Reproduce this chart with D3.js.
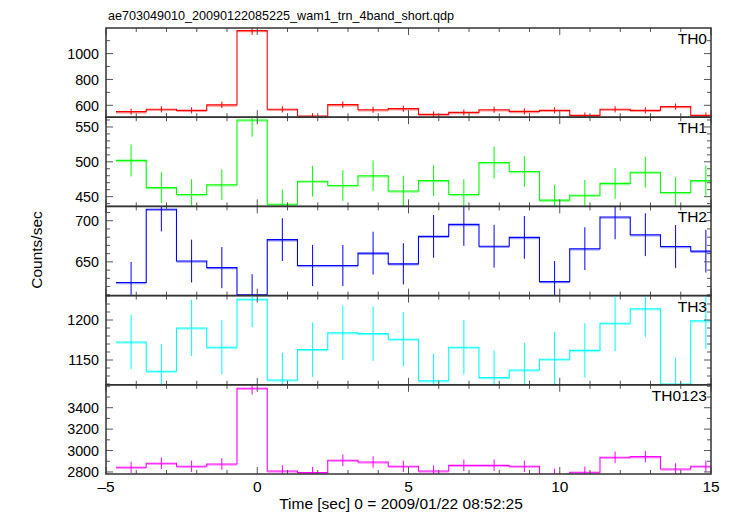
<!DOCTYPE html>
<html><head><meta charset="utf-8">
<script src="https://cdn.jsdelivr.net/npm/d3@7"></script>
<style>body{margin:0;background:#fff}svg{display:block;font-family:"Liberation Sans",Arial,sans-serif}</style>
</head><body><svg id="c" width="733" height="516"></svg>
<script>
const titleText = "ae703049010_20090122085225_wam1_trn_4band_short.qdp";
const xLabel = "Time [sec] 0 = 2009/01/22 08:52:25";
const yLabel = "Counts/sec";
const times = [-4.17,-3.17,-2.17,-1.17,-0.17,0.83,1.83,2.83,3.83,4.83,5.83,6.83,7.83,8.83,9.83,10.83,11.83,12.83,13.83,14.83];
const panelNames = ["TH0","TH1","TH2","TH3","TH0123"];
const panelColors = ["#ff0000","#00ff00","#0000ff","#00ffff","#ff00ff"];
const th0 = [551,569,561,603,1178,569,517,605,566,574,530,545,566,553,561,522,569,561,590,522];
const th0Err = [24,24,24,25,34,24,23,25,24,24,23,23,24,24,24,23,24,24,24,23];
const th1 = [502,463,453,467,560,439,472,466,480,458,473,453,499,486,445,452,469,485,456,473];
const th1Err = [23,22,22,22,24,21,22,22,22,22,22,22,23,22,22,22,22,22,22,22];
const th2 = [625,714,651,643,610,677,645.5,645.5,660.6,647.6,681,695.5,669,679.7,626,666,704.5,683,668.7,663];
const th2Err = [25,27,26,25,25,26,25,25,26,25,26,26,26,26,25,26,27,26,26,26];
const th3 = [1172.5,1136,1190,1166,1226,1125,1163,1184,1183,1176,1124,1166,1128,1137.5,1151,1162,1196,1214,1120,1199];
const th3Err = [34,34,35,34,35,34,34,34,34,34,34,34,34,34,34,34,35,35,33,35];
const th0123 = [2844,2881,2853,2875,3582,2809,2794,2909,2893,2853,2809,2862,2862,2853,2778,2797,2937,2943,2828,2853];
const th0123Err = [53,54,53,54,60,53,53,54,54,53,53,54,54,53,53,53,54,54,53,53];
const yDomains = [[508,1198],[436,564],[609,717.4],[1119,1230.5],[2781,3614]];
const yTickLabels = [[600,800,1000],[450,500,550],[650,700],[1150,1200],[2800,3000,3200,3400]];
const yMinorStep = [100,10,10,10,100];
const xDomain = [-5,15];
const xTickLabels = [-5,0,5,10,15];
const binWidth = 1;

const series = [th0,th1,th2,th3,th0123];
const errs = [th0Err,th1Err,th2Err,th3Err,th0123Err];

const svg = d3.select("#c");
const L=106,R=711,T=28,B=474;
const ph=(B-T)/5;
const x = d3.scaleLinear().domain(xDomain).range([L,R]);
const frameCol="#333", tickCol="#555";

svg.append("text").attr("x",108).attr("y",20).attr("font-size",12.6).attr("fill","#000").text(titleText);

panelNames.forEach((name,i)=>{
  const top=T+i*ph, bot=top+ph;
  const y=d3.scaleLinear().domain(yDomains[i]).range([bot,top]);
  const g=svg.append("g");
  const cid="clip"+i;
  svg.append("clipPath").attr("id",cid).append("rect").attr("x",L).attr("y",top).attr("width",R-L).attr("height",ph);
  const data=times.map((t,k)=>({t,v:series[i][k],e:errs[i][k]}));
  const dg=g.append("g").attr("clip-path",`url(#${cid})`);
  dg.selectAll("line.h").data(data).join("line")
    .attr("x1",d=>x(d.t-binWidth/2)).attr("x2",d=>x(d.t+binWidth/2))
    .attr("y1",d=>y(d.v)+1).attr("y2",d=>y(d.v)+1)
    .attr("stroke",panelColors[i]).attr("stroke-opacity",0.4).attr("stroke-width",1.5);
  const pts=[];
  data.forEach(d=>{pts.push([x(d.t-binWidth/2),y(d.v)]);pts.push([x(d.t+binWidth/2),y(d.v)]);});
  dg.append("path").attr("d",d3.line()(pts)).attr("fill","none").attr("stroke",panelColors[i]).attr("stroke-width",1.1);
  dg.selectAll("line.e").data(data).join("line")
    .attr("x1",d=>x(d.t)).attr("x2",d=>x(d.t))
    .attr("y1",d=>y(d.v-d.e)).attr("y2",d=>y(d.v+d.e))
    .attr("stroke",panelColors[i]).attr("stroke-width",1);
  const [y0,y1]=yDomains[i];
  const minor=d3.range(Math.ceil(y0/yMinorStep[i])*yMinorStep[i], y1, yMinorStep[i]);
  const major=yTickLabels[i];
  const yt=g.append("g").attr("stroke",tickCol).attr("stroke-width",1);
  minor.forEach(v=>{
    const len=major.includes(v)?7:4;
    yt.append("line").attr("x1",L).attr("x2",L+len).attr("y1",y(v)).attr("y2",y(v));
    yt.append("line").attr("x1",R).attr("x2",R-len).attr("y1",y(v)).attr("y2",y(v));
  });
  d3.range(-5,16,1).forEach(t=>{
    const len=(t%5===0)?7:4;
    yt.append("line").attr("x1",x(t)).attr("x2",x(t)).attr("y1",top).attr("y2",top+len);
    yt.append("line").attr("x1",x(t)).attr("x2",x(t)).attr("y1",bot).attr("y2",bot-len);
  });
  g.selectAll("text.yl").data(major).join("text")
    .attr("x",99).attr("y",v=>y(v)+5.3).attr("text-anchor","end").attr("font-size",14.3).attr("fill","#000").text(v=>v);
  g.append("text").attr("x",707).attr("y",top+16).attr("text-anchor","end").attr("font-size",15.5).attr("fill","#000").text(name);
  g.append("rect").attr("x",L).attr("y",top).attr("width",R-L).attr("height",ph).attr("fill","none").attr("stroke",frameCol).attr("stroke-width",1.5);
});

svg.selectAll("text.xl").data(xTickLabels).join("text")
  .attr("x",d=>x(d)).attr("y",492).attr("text-anchor","middle").attr("font-size",15.5).attr("fill","#000")
  .text(d=>d<0?"\u2013"+Math.abs(d):d);
svg.append("text").attr("x",401).attr("y",509).attr("text-anchor","middle").attr("font-size",15.5).attr("fill","#000").text(xLabel);
svg.append("text").attr("transform","translate(42,250) rotate(-90)").attr("text-anchor","middle").attr("font-size",15.5).attr("fill","#000").text(yLabel);
</script></body></html>
